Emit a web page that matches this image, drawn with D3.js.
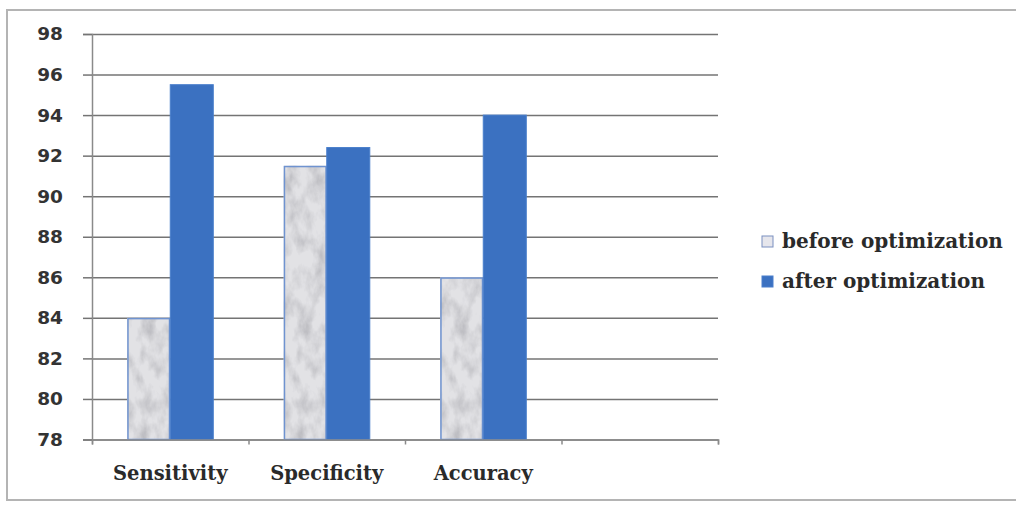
<!DOCTYPE html>
<html>
<head>
<meta charset="utf-8">
<script src="https://cdn.jsdelivr.net/npm/d3@7"></script>
<style>
  body { margin: 0; background: #fff; }
  svg { display: block; }
</style>
</head>
<body>
<div id="chart"></div>
<script>
// values
const categories = ["Sensitivity", "Specificity", "Accuracy"];
const seriesNames = ["before optimization", "after optimization"];
const beforeVals = [84, 91.5, 86];
const afterVals = [95.5, 92.4, 94];
const yTickVals = [78, 80, 82, 84, 86, 88, 90, 92, 94, 96, 98];

let w = 1016, h = 506;
let plotL = 92, plotR = 718, plotT = 34, plotB = 439.5;

let svg = d3.select("#chart")
    .append("svg")
    .attr("width", w)
    .attr("height", h);

// marble texture for the "before" bars
let defs = svg.append("defs");
let f = defs.append("filter").attr("id", "marble")
    .attr("x", 0).attr("y", 0).attr("width", 1).attr("height", 1);
f.append("feTurbulence")
    .attr("type", "fractalNoise")
    .attr("baseFrequency", "0.07 0.04")
    .attr("numOctaves", 4)
    .attr("seed", 7)
    .attr("result", "noise");
f.append("feColorMatrix")
    .attr("in", "noise")
    .attr("type", "matrix")
    .attr("values", "0 0 0 0 0.5  0 0 0 0 0.5  0 0 0 0 0.53  2.2 0 0 0 -0.85")
    .attr("result", "spots");
f.append("feComposite")
    .attr("in", "spots").attr("in2", "SourceGraphic")
    .attr("operator", "in").attr("result", "clipped");
let merge = f.append("feMerge");
merge.append("feMergeNode").attr("in", "SourceGraphic");
merge.append("feMergeNode").attr("in", "clipped");

// outer frame
svg.append("path")
    .attr("d", "M1016,10 H7 V500 H1016")
    .attr("fill", "none")
    .attr("stroke", "#b4b4b4")
    .attr("stroke-width", 2);

// scales: four slots, last one left empty like the original
let slots = categories.concat([""]);
let x = d3.scaleBand().domain(slots).range([plotL, plotR])
    .paddingInner(0.45).paddingOuter(0.225);
let x1 = d3.scaleBand().domain(seriesNames).range([0, x.bandwidth()]);
let y = d3.scaleLinear().domain([78, 98]).range([plotB, plotT]);
let xEdge = d3.scaleLinear().domain([0, slots.length]).range([plotL, plotR]);

// gridlines
svg.append("g")
    .attr("transform", `translate(${plotL},0)`)
    .call(d3.axisLeft(y).tickValues(yTickVals).tickSize(-(plotR - plotL)).tickFormat(""))
    .call(g => g.select(".domain").remove())
    .call(g => g.selectAll("line").attr("stroke", "#747474").attr("stroke-width", 1.5));

// left axis with outward ticks + labels
svg.append("g")
    .attr("transform", `translate(${plotL},0)`)
    .call(d3.axisLeft(y).tickValues(yTickVals).tickSize(9).tickPadding(20))
    .call(g => g.select(".domain").attr("stroke", "#8a8a8a").attr("stroke-width", 1.5))
    .call(g => g.selectAll("line").attr("stroke", "#747474").attr("stroke-width", 1.5))
    .call(g => g.selectAll("text")
        .attr("font-family", "DejaVu Sans")
        .attr("font-weight", "bold")
        .attr("font-size", 18.5)
        .attr("fill", "#333"));

// bars
let groups = svg.append("g").selectAll("g")
    .data(categories)
    .enter().append("g")
    .attr("transform", d => `translate(${x(d)},0)`);

groups.append("rect")
    .attr("x", x1(seriesNames[0]))
    .attr("y", (d, i) => y(beforeVals[i]))
    .attr("width", x1.bandwidth())
    .attr("height", (d, i) => y(78) - y(beforeVals[i]))
    .attr("fill", "#e2e2e5")
    .attr("filter", "url(#marble)");
groups.append("rect")
    .attr("x", x1(seriesNames[0]) + 0.75)
    .attr("y", (d, i) => y(beforeVals[i]) + 0.75)
    .attr("width", x1.bandwidth() - 1.5)
    .attr("height", (d, i) => y(78) - y(beforeVals[i]) - 0.75)
    .attr("fill", "none")
    .attr("stroke", "#6f93d0")
    .attr("stroke-width", 1.5);

groups.append("rect")
    .attr("x", x1(seriesNames[1]))
    .attr("y", (d, i) => y(afterVals[i]))
    .attr("width", x1.bandwidth())
    .attr("height", (d, i) => y(78) - y(afterVals[i]))
    .attr("fill", "#3b71c1")
    .attr("stroke", "#4a7fcc")
    .attr("stroke-width", 1);

// bottom axis: ticks sit on slot edges
svg.append("g")
    .attr("transform", `translate(0,${plotB})`)
    .call(d3.axisBottom(xEdge).tickValues(d3.range(slots.length + 1)).tickSize(5).tickFormat(""))
    .call(g => g.select(".domain").attr("stroke", "#8a8a8a").attr("stroke-width", 1.5))
    .call(g => g.selectAll("line").attr("stroke", "#8a8a8a").attr("stroke-width", 1.5));

svg.append("g").selectAll("text")
    .data(categories)
    .enter().append("text")
    .attr("x", d => x(d) + x.bandwidth() / 2)
    .attr("y", 480)
    .attr("text-anchor", "middle")
    .attr("font-family", "DejaVu Serif")
    .attr("font-weight", "bold")
    .attr("font-size", 19.5)
    .attr("fill", "#2a2a2a")
    .text(d => d);

// legend
let legend = svg.append("g").selectAll("g")
    .data(seriesNames)
    .enter().append("g")
    .attr("transform", (d, i) => `translate(762,${i === 0 ? 236 : 276})`);
legend.append("rect")
    .attr("width", 11).attr("height", 11)
    .attr("fill", (d, i) => i === 0 ? "#e6e6ec" : "#3b71c1")
    .attr("stroke", (d, i) => i === 0 ? "#7a8fc0" : "#4a7fcc")
    .attr("stroke-width", 1);
legend.append("text")
    .attr("x", 20)
    .attr("y", 12)
    .attr("font-family", "DejaVu Serif")
    .attr("font-weight", "bold")
    .attr("font-size", 20)
    .attr("fill", "#2a2a2a")
    .text(d => d);
</script>
</body>
</html>
